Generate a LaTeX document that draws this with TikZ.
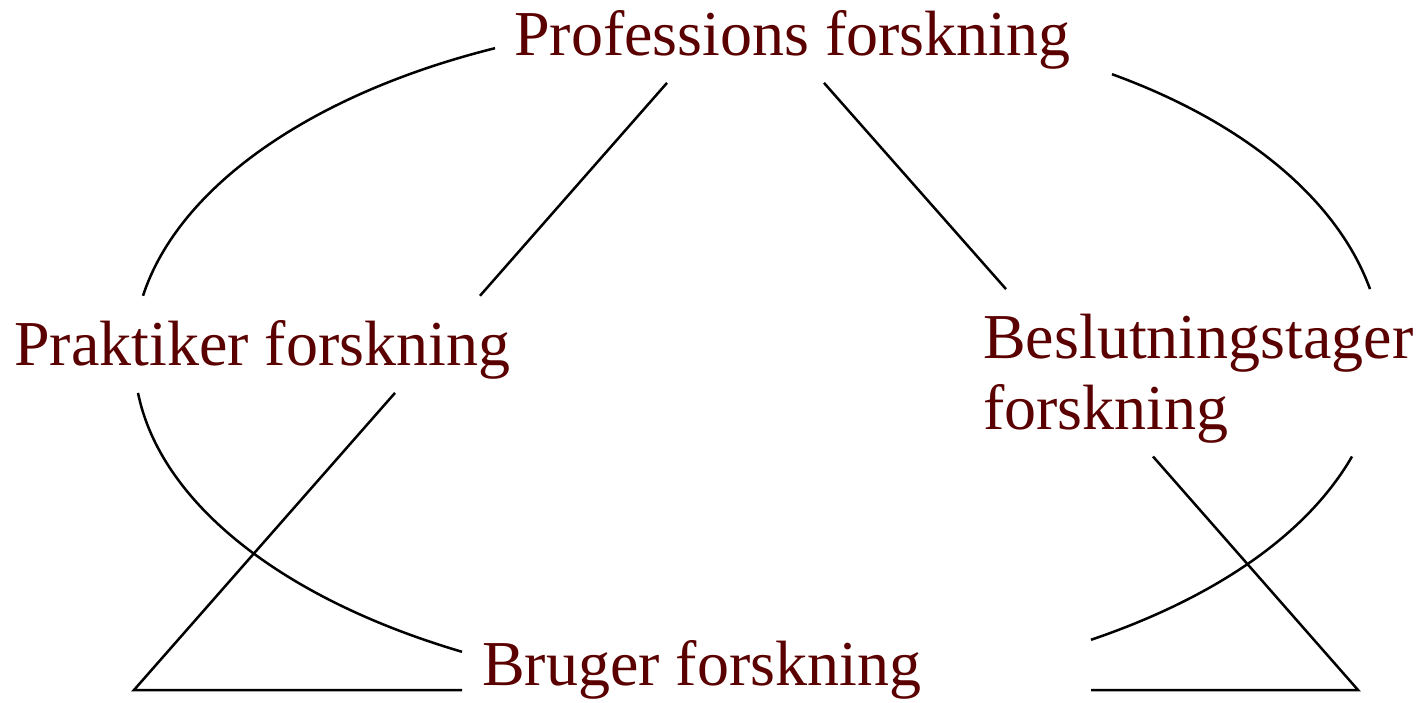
\documentclass[tikz,border=0pt]{standalone}
\usepackage{fontspec}
\setmainfont{Liberation Serif}
\usepackage{xcolor}
\definecolor{maroonText}{RGB}{90,0,0}
\tikzset{
  field/.style = {text = maroonText, font = \fontsize{64}{70.3}\selectfont,
    anchor = base west, inner xsep = 0pt, inner ysep = 13pt,
    text height = 56.7pt, text depth = 14pt},
  link/.style = {line width = 2.5pt}
}

\begin{document}
\begin{tikzpicture}[x = 1pt, y = 1pt]
  \useasboundingbox (0,0) rectangle (1417,702);
  \node[field] (prof) at (514,646.3) {Professions forskning};
  \node[field] (prak) at (14,336.3) {Praktiker forskning};
  \node[field, align = left, text height = 127pt] (besl) at (983,272.7) {Beslutningstager\\forskning};
  \node[field] (bru) at (482,16.3) {Bruger forskning};
  \coordinate (lc) at (134,12);
  \coordinate (rc) at (1358,12);
  \begin{scope}[link]
    \draw ([shift={(-19pt,34.7pt)}]prof.south west) .. controls +(194:190pt) and +(72:114pt) .. ([xshift=129pt]prak.north west);
    \draw ([shift={(598pt,8.7pt)}]prof.south west) .. controls +(-20:145pt) and +(110:93pt) .. ([xshift=387pt]besl.north west);
    \draw ([xshift=124pt]prak.south west) .. controls +(-78.5:112pt) and +(163.6:188pt) .. ([shift={(-20pt,-36pt)}]bru.north west);
    \draw ([xshift=369pt]besl.south west) .. controls +(240:89pt) and +(18.8:133pt) .. ([shift={(609pt,-24pt)}]bru.north west);
    \draw ([xshift=153pt]prof.south west) -- ([xshift=466pt]prak.north west);
    \draw ([xshift=310pt]prof.south west) -- ([xshift=23pt]besl.north west);
    \draw ([xshift=381pt]prak.south west) -- (lc) -- ([xshift=-20pt]bru.base west |- lc);
    \draw ([xshift=170pt]besl.south west) -- (rc) -- ([xshift=609pt]bru.base west |- rc);
  \end{scope}
\end{tikzpicture}
\end{document}
